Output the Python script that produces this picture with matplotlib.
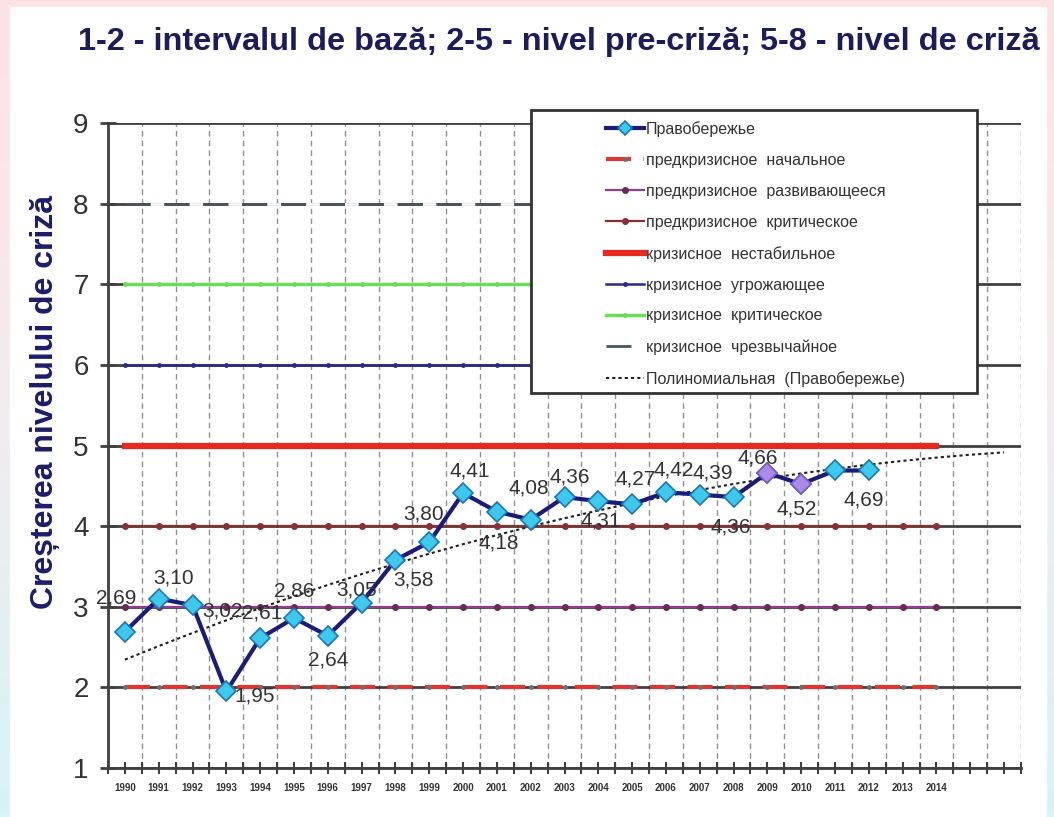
import numpy as np
import matplotlib
matplotlib.use("Agg")
from matplotlib import pyplot as plt
from matplotlib.patches import Rectangle
from matplotlib.colors import LinearSegmentedColormap

plt.rcParams['font.family'] = ['Liberation Sans', 'DejaVu Sans']

years = list(range(1990, 2013))
values = [2.69, 3.10, 3.02, 1.95, 2.61, 2.86, 2.64, 3.05, 3.58, 3.80, 4.41, 4.18,
          4.08, 4.36, 4.31, 4.27, 4.42, 4.39, 4.36, 4.66, 4.52, 4.69, 4.69]
value_labels = ['2,69', '3,10', '3,02', '1,95', '2,61', '2,86', '2,64', '3,05', '3,58',
                '3,80', '4,41', '4,18', '4,08', '4,36', '4,31', '4,27', '4,42', '4,39',
                '4,36', '4,66', '4,52', '', '4,69']
purple_years = [2009, 2010]
level_years = list(range(1990, 2015))
levels = [2, 3, 4, 5, 6, 7, 8]
level_names = ['предкризисное  начальное', 'предкризисное  развивающееся',
               'предкризисное  критическое', 'кризисное  нестабильное',
               'кризисное  угрожающее', 'кризисное  критическое',
               'кризисное  чрезвычайное']
trend_years = list(range(1990, 2017))
tick_labels = [str(y) for y in range(1990, 2015)] + ['', '']
title = '1-2 - intervalul de bază; 2-5 - nivel pre-criză; 5-8 - nivel de criză'
ylabel = 'Creșterea nivelului de criză'

# label offsets in pixels (dx, dy)
offsets = [(-9, 34), (15, 21), (30, -6), (28, -5), (2, 25), (0, 27), (0, -24), (-5, 13),
           (18, -20), (-6, 28), (7, 22), (2, -31), (-2, 32), (5, 20), (2, -20), (4, 25),
           (8, 22), (13, 22), (-3, -30), (-10, 15), (-5, -25), (0, 0), (-5, -30)]

level_styles = [
    dict(color='#e2352d', lw=3, ls=(0, (6, 3)), marker='o', ms=2.5, mfc='#707070', mec='#707070'),
    dict(color='#8e3f8e', lw=1.6, marker='o', ms=4, mfc='#6a2a55', mec='#6a2a55'),
    dict(color='#8a2e2e', lw=1.6, marker='o', ms=4, mfc='#8a2e3a', mec='#8a2e3a'),
    dict(color='#e62a20', lw=4.5),
    dict(color='#2a2a88', lw=1.8, marker='o', ms=2.5),
    dict(color='#6bdc58', lw=2.5, marker='o', ms=2.5, mfc='#6bdc58', mec='#6bdc58'),
    dict(color='#4a545c', lw=2, ls=(0, (9, 5)), gapcolor='white'),
]

W, H = 1054, 817
fig = plt.figure(figsize=(W / 100, H / 100), dpi=100)

# background frame with gradient
bg = fig.add_axes([0, 0, 1, 1], zorder=-10)
grad = np.linspace(0, 1, 256).reshape(-1, 1)
cmap = LinearSegmentedColormap.from_list('bg', ['#fde2e4', '#f3ecef', '#d6f3f7'])
bg.imshow(grad, aspect='auto', cmap=cmap, extent=[0, 1, 0, 1])
bg.add_patch(Rectangle((10 / W, 0), (1046 - 10) / W, 1 - 7 / H, color='white'))
bg.set_xlim(0, 1)
bg.set_ylim(0, 1)
bg.axis('off')

ax = fig.add_axes([108 / W, 1 - 768 / H, (1021 - 108) / W, (768 - 123) / H])
ax.set_xlim(1989.5, 2016.5)
ax.set_ylim(1, 9)

for y in range(1, 10):
    ax.plot([1989.5, 2016.5], [y, y], color='#404040', lw=2, zorder=1)
for x in np.arange(1990.5, 2017, 1.0):
    ax.axvline(x, color='#909090', lw=1, ls=(0, (4, 3)), zorder=0.5)

handles = []
for lv, name, st in zip(levels, level_names, level_styles):
    h, = ax.plot(level_years, [lv] * len(level_years), label=name, zorder=2, **st)
    handles.append(h)

# polynomial trend of the main series, extended two years ahead
coef = np.polyfit(years, values, 2)
trend = np.polyval(coef, trend_years)
ht, = ax.plot(trend_years, trend, color='#202020', lw=1.5, ls=(0, (1.5, 1.5)), zorder=3,
              label='Полиномиальная  (Правобережье)')

hm, = ax.plot(years, values, color='#1b1b78', lw=3, marker='D', ms=10,
              mfc='#3ec8ec', mec='#1a78b8', mew=1.2, zorder=4, label='Правобережье')
pv = [values[years.index(y)] for y in purple_years]
ax.plot(purple_years, pv, ls='none', marker='D', ms=10, mfc='#a98be6', mec='#7a5cc0',
        mew=1.2, zorder=5)

for x, v, lab, (dx, dy) in zip(years, values, value_labels, offsets):
    if lab:
        ax.annotate(lab, (x, v), xytext=(dx, dy), textcoords='offset pixels',
                    ha='center', va='center', fontsize=15, color='#333333', zorder=6)

for s in ['top', 'right']:
    ax.spines[s].set_visible(False)
ax.spines['left'].set_linewidth(2)
ax.spines['left'].set_color('#404040')
ax.spines['bottom'].set_linewidth(2)
ax.spines['bottom'].set_color('#404040')

ax.set_yticks(range(1, 10))
ax.tick_params(axis='y', direction='inout', length=12, width=2, color='#404040',
               labelsize=20, labelcolor='#333333', pad=8)
ax.set_xticks(np.arange(1990, 2017))
ax.set_xticklabels(tick_labels)
ax.set_xticks(np.arange(1989.5, 2017, 1.0), minor=True)
ax.tick_params(axis='x', which='both', direction='inout', length=9, width=1.5, color='#404040')
ax.tick_params(axis='x', which='major', labelsize=7, pad=6)
for t in ax.get_xticklabels():
    t.set_fontweight('bold')
    t.set_color('#333333')

# legend box
fig.patches.append(Rectangle((531 / W, 1 - 393 / H), (977 - 531) / W, (393 - 110) / H,
                             transform=fig.transFigure, facecolor='white',
                             edgecolor='#333333', lw=2, zorder=7))
leg = fig.legend(handles=[hm] + handles + [ht], loc='upper left',
                 bbox_to_anchor=(598 / W, 1 - 113 / H), frameon=False, fontsize=11.5,
                 handlelength=2.4, handletextpad=0.1, labelspacing=1.0, borderpad=0,
                 labelcolor='#333333')
leg.set_zorder(8)
for h in leg.legend_handles:
    if h.get_marker() == 'D':
        h.set_markersize(7)

fig.text(559 / W, 1 - 42 / H, title, ha='center', va='center', fontsize=23.4,
         fontweight='bold', color='#1c1c5c')
fig.text(45 / W, 1 - 402 / H, ylabel, ha='center', va='center', rotation=90,
         fontsize=23, fontweight='bold', color='#1c1c6c')

fig.savefig('out.png', dpi=100)
